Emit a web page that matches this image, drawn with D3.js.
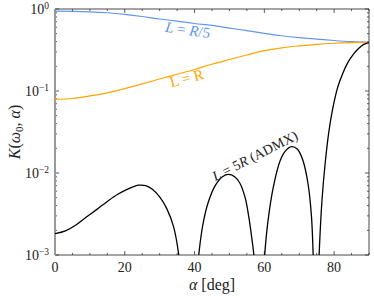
<!DOCTYPE html>
<meta charset="utf-8">
<style>
body { margin: 0; background: #fff; }
svg text { font-family: "Liberation Serif", "Times New Roman", "DejaVu Serif", serif; }
.tick-label { font-size: 14px; fill: #222; }
</style>
<svg width="374" height="298" font-family="Liberation Serif, serif"></svg>
<script src="https://d3js.org/d3.v7.min.js"></script>
<script>

// angle in degrees
var blueAngles = [0, 5, 10, 15, 20, 25, 30, 35, 40, 45, 50, 55, 60, 65, 70, 75, 80, 85, 90];
var blueValues = [0.94, 0.937, 0.925, 0.90, 0.86, 0.81, 0.755, 0.71, 0.665, 0.63, 0.585, 0.545, 0.505, 0.472, 0.448, 0.43, 0.413, 0.40, 0.393];

var orangeAngles = [0, 5, 10, 15, 20, 25, 30, 35, 40, 45, 50, 55, 60, 65, 70, 75, 80, 85, 90];
var orangeValues = [0.079, 0.081, 0.087, 0.095, 0.107, 0.122, 0.140, 0.160, 0.183, 0.212, 0.242, 0.275, 0.310, 0.336, 0.355, 0.371, 0.382, 0.389, 0.393];

var blackAngles = [0, 3, 6, 9, 12, 15, 18, 21, 24, 26, 28, 30, 32, 34, 35.5, 36.3, 38.5, 40.5, 41.2,
  42.5, 44, 46, 48, 49.7, 51.5, 53, 54.5, 55.5, 56.5, 57, 57.6, 58.6, 59.6, 60.1,
  61, 62.5, 64.5, 66, 67.8, 69.5, 71, 72.5, 73.5, 74.0, 74.4, 74.85, 75.3, 75.7,
  76.5, 77.5, 78.5, 79.5, 81, 82.5, 84, 85.5, 87, 88.5, 90];
var blackValues = [0.00182, 0.00197, 0.00232, 0.0029, 0.0036, 0.0045, 0.0055, 0.0064, 0.0071, 0.0070, 0.0063, 0.0051, 0.0037, 0.0022, 0.00098, 0.0004, 0.00001, 0.0004, 0.001,
  0.0025, 0.0045, 0.0071, 0.0090, 0.0096, 0.0090, 0.0075, 0.0050, 0.0030, 0.0015, 0.001, 0.0004, 0.00001, 0.0004, 0.001,
  0.0025, 0.0065, 0.0140, 0.0185, 0.0210, 0.0195, 0.0145, 0.0075, 0.0030, 0.001, 0.0003, 0.00001, 0.0003, 0.001,
  0.0045, 0.014, 0.032, 0.058, 0.11, 0.165, 0.225, 0.28, 0.33, 0.37, 0.39];

var xTicks = [0, 20, 40, 60, 80];
var yExponents = [0, -1, -2, -3];

var svg = d3.select("svg"),
    margin = {top: 9, right: 5, bottom: 43, left: 55},
    width = +svg.attr("width") - margin.left - margin.right,
    height = +svg.attr("height") - margin.top - margin.bottom,
    g = svg.append("g").attr("transform", "translate(" + margin.left + "," + margin.top + ")");

var x = d3.scaleLinear().domain([0, 90]).range([0, width]);
var y = d3.scaleLog().domain([1e-3, 1]).range([height, 0]);

svg.append("defs").append("clipPath").attr("id", "clip")
  .append("rect").attr("width", width).attr("height", height);

// minor / major ticks, pointing inward on all four sides
var xMinor = d3.range(0, 91, 5);
var yMinor = [];
[1e-3, 1e-2, 1e-1].forEach(function(d) {
  for (var k = 2; k < 10; k++) yMinor.push(d * k);
});

function tickLen(isMajor) { return isMajor ? 4 : 2; }

xMinor.forEach(function(d) {
  var major = xTicks.indexOf(d) >= 0;
  g.append("line").attr("x1", x(d)).attr("x2", x(d)).attr("y1", height).attr("y2", height - tickLen(major))
    .attr("stroke", "#333").attr("stroke-width", 0.8);
  g.append("line").attr("x1", x(d)).attr("x2", x(d)).attr("y1", 0).attr("y2", tickLen(major))
    .attr("stroke", "#333").attr("stroke-width", 0.8);
});
yMinor.concat(yExponents.map(function(e) { return Math.pow(10, e); })).forEach(function(d) {
  var major = Math.abs(Math.log10(d) - Math.round(Math.log10(d))) < 1e-9;
  g.append("line").attr("x1", 0).attr("x2", tickLen(major)).attr("y1", y(d)).attr("y2", y(d))
    .attr("stroke", "#333").attr("stroke-width", 0.8);
  g.append("line").attr("x1", width).attr("x2", width - tickLen(major)).attr("y1", y(d)).attr("y2", y(d))
    .attr("stroke", "#333").attr("stroke-width", 0.8);
});

// frame
g.append("line").attr("x1", 0).attr("x2", width).attr("y1", 0).attr("y2", 0).attr("stroke", "#333").attr("stroke-width", 0.9);
g.append("line").attr("x1", 0).attr("x2", width).attr("y1", height).attr("y2", height).attr("stroke", "#333").attr("stroke-width", 0.9);
g.append("line").attr("x1", width).attr("x2", width).attr("y1", 0).attr("y2", height).attr("stroke", "#333").attr("stroke-width", 0.9);
g.append("line").attr("x1", 0).attr("x2", 0).attr("y1", 0).attr("y2", height).attr("stroke", "#999").attr("stroke-width", 2);

// tick labels
g.selectAll(".xlab").data(xTicks).enter().append("text")
  .attr("class", "tick-label")
  .attr("x", function(d) { return x(d); })
  .attr("y", height + 17)
  .attr("text-anchor", "middle")
  .text(function(d) { return d; });

var ylab = g.selectAll(".ylab").data(yExponents).enter().append("text")
  .attr("class", "tick-label")
  .attr("x", -6)
  .attr("y", function(d) { return y(Math.pow(10, d)) + 5; })
  .attr("text-anchor", "end");
ylab.append("tspan").text("10");
ylab.append("tspan").attr("dy", -5).attr("font-size", 9.5)
  .text(function(d) { return d < 0 ? "\u2212" + (-d) : d; });

// curves
var line = d3.line()
  .x(function(d) { return x(d[0]); })
  .y(function(d) { return y(d[1]); })
  .curve(d3.curveCatmullRom.alpha(0.5));

var plot = g.append("g").attr("clip-path", "url(#clip)");

plot.append("path").datum(d3.zip(blueAngles, blueValues))
  .attr("fill", "none").attr("stroke", "#6495ED").attr("stroke-width", 1.2).attr("d", line);
plot.append("path").datum(d3.zip(orangeAngles, orangeValues))
  .attr("fill", "none").attr("stroke", "#FFA500").attr("stroke-width", 1.2).attr("d", line);
plot.append("path").datum(d3.zip(blackAngles, blackValues))
  .attr("fill", "none").attr("stroke", "#000").attr("stroke-width", 1.3).attr("d", line);

// curve labels
svg.append("text")
  .attr("transform", "translate(187,35) rotate(8)")
  .attr("text-anchor", "middle").attr("font-size", 15).attr("fill", "#6495ED")
  .html('<tspan font-style="italic">L</tspan> = <tspan font-style="italic">R</tspan>/5');
svg.append("text")
  .attr("transform", "translate(188,83) rotate(-14)")
  .attr("text-anchor", "middle").attr("font-size", 15).attr("fill", "#FFA500")
  .text("L = R");
svg.append("text")
  .attr("transform", "translate(257,160) rotate(-27)")
  .attr("text-anchor", "middle").attr("font-size", 14).attr("fill", "#222")
  .html('<tspan font-style="italic">L</tspan> = 5<tspan font-style="italic">R</tspan> (ADMX)');

// axis titles
svg.append("text")
  .attr("x", margin.left + width / 2).attr("y", 290)
  .attr("text-anchor", "middle").attr("font-size", 16).attr("fill", "#222")
  .html('<tspan font-style="italic">α</tspan> [deg]');
svg.append("text")
  .attr("transform", "translate(20," + (margin.top + height / 2) + ") rotate(-90)")
  .attr("text-anchor", "middle").attr("font-size", 16).attr("fill", "#222")
  .html('<tspan font-style="italic">K</tspan>(<tspan font-style="italic">ω</tspan><tspan font-size="11" dy="3">0</tspan><tspan dy="-3">, </tspan><tspan font-style="italic">α</tspan>)');

</script>
